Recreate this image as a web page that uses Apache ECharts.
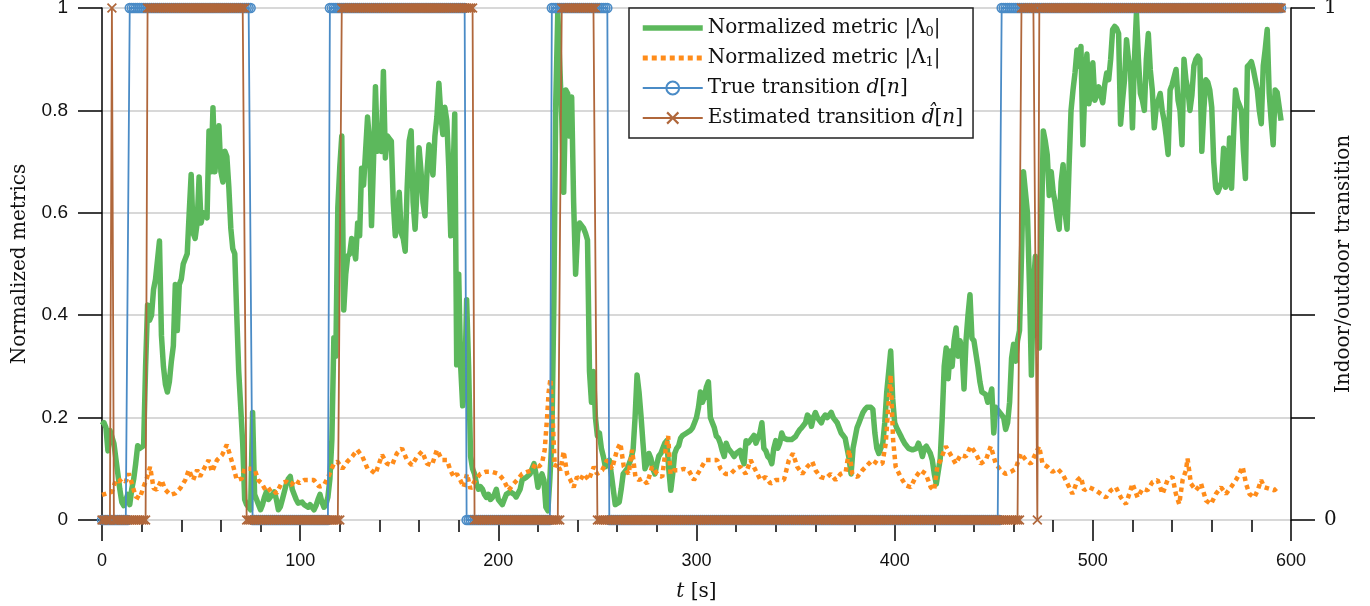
<!DOCTYPE html>
<html>
<head>
<meta charset="utf-8">
<script src="https://cdn.jsdelivr.net/npm/echarts@6/dist/echarts.min.js"></script>
<style>
  html, body { margin: 0; padding: 0; background: #ffffff; }
  #chart { width: 1370px; height: 606px; }
</style>
</head>
<body>
<div id="chart"></div>
<script>
// Normalized metric |Lambda_0|, [t (s), value]
var lambda0 = [
  [0,0.185],[1,0.19],[2,0.18],[3,0.135],[4,0.175],[5,0.175],[6,0.15],[7,0.12],[8,0.09],[9,0.06],[10,0.035],
  [11,0.028],[12,0.03],[13,0.05],[14,0.03],[15,0.06],[16,0.08],[17,0.11],[18,0.145],[19,0.14],[20,0.14],[21,0.145],
  [22,0.3],[23,0.42],[24,0.39],[25,0.4],[26,0.45],[27,0.47],[28,0.47],[29,0.545],[30,0.36],[31,0.3],[32,0.265],
  [33,0.25],[34,0.27],[35,0.31],[36,0.34],[37,0.46],[38,0.37],[39,0.46],[40,0.47],[41,0.5],[42,0.51],[43,0.52],
  [44,0.6],[45,0.675],[46,0.56],[47,0.55],[48,0.58],[49,0.67],[50,0.58],[51,0.6],[52,0.6],[53,0.59],[54,0.76],
  [55,0.68],[56,0.805],[57,0.68],[58,0.73],[59,0.77],[60,0.68],[61,0.66],[62,0.72],[63,0.71],[64,0.65],[65,0.57],
  [66,0.53],[67,0.52],[68,0.4],[69,0.29],[70,0.29],[71,0.15],[72,0.04],[73,0.03],[74,0.03],[75,0.02],[76,0.21],
  [77,0.05],[78,0.04],[79,0.03],[80,0.02],[81,0.03],[82,0.045],[83,0.055],[84,0.04],[85,0.04],[86,0.05],[87,0.055],
  [88,0.04],[89,0.02],[90,0.026],[91,0.04],[92,0.055],[93,0.07],[94,0.08],[95,0.085],[96,0.06],[97,0.05],[98,0.04],
  [99,0.033],[100,0.03],[101,0.035],[102,0.03],[103,0.028],[104,0.025],[105,0.03],[106,0.025],[107,0.02],[108,0.028],
  [109,0.04],[110,0.05],[111,0.035],[112,0.025],[113,0.03],[114,0.045],[115,0.08],[116,0.157],[117,0.356],[118,0.32],
  [119,0.61],[120,0.69],[121,0.75],[122,0.41],[123,0.48],[124,0.515],[125,0.52],[126,0.55],[127,0.53],[128,0.51],
  [129,0.58],[130,0.555],[131,0.687],[132,0.654],[133,0.655],[134,0.787],[135,0.74],[136,0.575],[137,0.7],[138,0.846],
  [139,0.72],[140,0.73],[141,0.72],[142,0.876],[143,0.707],[144,0.75],[145,0.745],[146,0.74],[147,0.62],[148,0.555],
  [149,0.588],[150,0.64],[151,0.56],[152,0.55],[153,0.525],[154,0.65],[155,0.74],[156,0.76],[157,0.62],[158,0.568],
  [159,0.65],[160,0.727],[161,0.68],[162,0.62],[163,0.594],[164,0.68],[165,0.733],[166,0.7],[167,0.674],[168,0.75],
  [169,0.787],[170,0.853],[171,0.79],[172,0.753],[173,0.806],[174,0.78],[175,0.687],[176,0.555],[177,0.65],[178,0.793],
  [179,0.303],[180,0.48],[181,0.3],[182,0.223],[183,0.256],[184,0.43],[185,0.3],[186,0.124],[187,0.1],[188,0.09],
  [189,0.07],[190,0.06],[191,0.065],[192,0.06],[193,0.05],[194,0.044],[195,0.05],[196,0.04],[197,0.044],[198,0.05],
  [199,0.06],[200,0.04],[201,0.035],[202,0.03],[203,0.04],[204,0.05],[205,0.05],[206,0.055],[207,0.058],[208,0.05],
  [209,0.045],[210,0.044],[211,0.06],[212,0.078],[213,0.08],[214,0.083],[215,0.085],[216,0.09],[217,0.1],[218,0.11],
  [219,0.09],[220,0.064],[221,0.08],[222,0.09],[223,0.078],[224,0.025],[225,0.018],[226,0.08],[227,0.157],[228,0.42],
  [229,0.82],[230,0.99],[231,0.99],[232,0.787],[233,0.64],[234,0.84],[235,0.833],[236,0.75],[237,0.826],[238,0.62],
  [239,0.48],[240,0.56],[241,0.58],[242,0.58],[243,0.57],[244,0.56],[245,0.547],[246,0.29],[247,0.23],[248,0.29],
  [249,0.2],[250,0.164],[251,0.17],[252,0.14],[253,0.124],[254,0.104],[255,0.11],[256,0.117],[257,0.09],[258,0.06],
  [259,0.03],[260,0.03],[261,0.035],[262,0.06],[263,0.09],[264,0.095],[265,0.1],[266,0.11],[267,0.12],[268,0.137],
  [269,0.2],[270,0.283],[271,0.25],[272,0.203],[273,0.15],[274,0.1],[275,0.11],[276,0.13],[277,0.12],[278,0.1],
  [279,0.09],[280,0.11],[281,0.125],[282,0.13],[283,0.14],[284,0.15],[285,0.155],[286,0.1],[287,0.058],[288,0.09],
  [289,0.13],[290,0.14],[291,0.145],[292,0.16],[293,0.165],[294,0.165],[295,0.17],[296,0.168],[297,0.175],[298,0.18],
  [299,0.19],[300,0.2],[301,0.22],[302,0.25],[303,0.23],[304,0.24],[305,0.26],[306,0.27],[307,0.2],[308,0.19],
  [309,0.18],[310,0.164],[311,0.16],[312,0.15],[313,0.135],[314,0.124],[315,0.15],[316,0.14],[317,0.14],[318,0.13],
  [319,0.124],[320,0.13],[321,0.13],[322,0.136],[323,0.12],[324,0.11],[325,0.155],[326,0.15],[327,0.15],[328,0.16],
  [329,0.165],[330,0.15],[331,0.16],[332,0.17],[333,0.19],[334,0.14],[335,0.135],[336,0.124],[337,0.12],[338,0.11],
  [339,0.14],[340,0.155],[341,0.14],[342,0.15],[343,0.17],[344,0.16],[345,0.157],[346,0.157],[347,0.16],[348,0.157],
  [349,0.16],[350,0.163],[351,0.17],[352,0.176],[353,0.18],[354,0.183],[355,0.19],[356,0.205],[357,0.2],[358,0.183],
  [359,0.2],[360,0.21],[361,0.2],[362,0.2],[363,0.19],[364,0.2],[365,0.205],[366,0.2],[367,0.2],[368,0.21],
  [369,0.2],[370,0.197],[371,0.19],[372,0.19],[373,0.17],[374,0.165],[375,0.16],[376,0.157],[377,0.12],[378,0.09],
  [379,0.14],[380,0.16],[381,0.18],[382,0.19],[383,0.2],[384,0.21],[385,0.216],[386,0.22],[387,0.223],[388,0.22],
  [389,0.216],[390,0.17],[391,0.14],[392,0.13],[393,0.13],[394,0.15],[395,0.19],[396,0.25],[397,0.29],[398,0.33],
  [399,0.237],[400,0.19],[401,0.18],[402,0.18],[403,0.165],[404,0.157],[405,0.15],[406,0.15],[407,0.14],[408,0.137],
  [409,0.137],[410,0.137],[411,0.14],[412,0.15],[413,0.14],[414,0.124],[415,0.14],[416,0.144],[417,0.144],[418,0.13],
  [419,0.117],[420,0.09],[421,0.07],[422,0.07],[423,0.12],[424,0.2],[425,0.3],[426,0.336],[427,0.276],[428,0.33],
  [429,0.3],[430,0.35],[431,0.375],[432,0.32],[433,0.35],[434,0.33],[435,0.256],[436,0.35],[437,0.4],[438,0.44],
  [439,0.355],[440,0.35],[441,0.35],[442,0.3],[443,0.27],[444,0.25],[445,0.25],[446,0.245],[447,0.23],[448,0.24],
  [449,0.256],[450,0.17],[451,0.22],[452,0.215],[453,0.21],[454,0.205],[455,0.2],[456,0.177],[457,0.19],[458,0.23],
  [459,0.316],[460,0.343],[461,0.31],[462,0.35],[463,0.37],[464,0.515],[465,0.68],[466,0.64],[467,0.6],[468,0.46],
  [469,0.283],[470,0.455],[471,0.515],[472,0.42],[473,0.336],[474,0.555],[475,0.76],[476,0.74],[477,0.713],[478,0.634],
  [479,0.68],[480,0.64],[481,0.62],[482,0.59],[483,0.568],[484,0.66],[485,0.694],[486,0.6],[487,0.568],[488,0.69],
  [489,0.8],[490,0.84],[491,0.873],[492,0.918],[493,0.886],[494,0.925],[495,0.733],[496,0.85],[497,0.91],[498,0.813],
  [499,0.84],[500,0.893],[501,0.82],[502,0.83],[503,0.846],[504,0.83],[505,0.815],[506,0.85],[507,0.873],[508,0.86],
  [509,0.9],[510,0.958],[511,0.964],[512,0.96],[513,0.95],[514,0.773],[515,0.82],[516,0.86],[517,0.938],[518,0.9],
  [519,0.88],[520,0.766],[521,0.9],[522,0.99],[523,0.9],[524,0.833],[525,0.82],[526,0.8],[527,0.9],[528,0.95],
  [529,0.879],[530,0.84],[531,0.766],[532,0.806],[533,0.82],[534,0.833],[535,0.8],[536,0.78],[537,0.75],[538,0.714],
  [539,0.84],[540,0.85],[541,0.853],[542,0.88],[543,0.82],[544,0.8],[545,0.733],[546,0.9],[547,0.86],[548,0.84],
  [549,0.8],[550,0.83],[551,0.887],[552,0.9],[553,0.906],[554,0.9],[555,0.72],[556,0.8],[557,0.86],[558,0.855],
  [559,0.84],[560,0.806],[561,0.7],[562,0.648],[563,0.64],[564,0.65],[565,0.66],[566,0.726],[567,0.65],[568,0.66],
  [569,0.746],[570,0.648],[571,0.75],[572,0.84],[573,0.82],[574,0.81],[575,0.8],[576,0.72],[577,0.667],[578,0.886],
  [579,0.89],[580,0.895],[581,0.88],[582,0.86],[583,0.84],[584,0.8],[585,0.774],[586,0.887],[587,0.92],[588,0.958],
  [589,0.833],[590,0.78],[591,0.733],[592,0.84],[593,0.835],[594,0.833],[595,0.78]
];

// Normalized metric |Lambda_1|, [t (s), value]
var lambda1 = [
  [0,0.049],[2.5,0.052],[5,0.055],[7,0.078],[8.5,0.075],[10,0.081],[12,0.075],[13.5,0.091],[15,0.072],[17,0.046],
  [19,0.042],[21,0.065],[22.6,0.081],[24.3,0.104],[26,0.062],[27.7,0.059],[30,0.078],[32,0.059],[34.5,0.049],[37,0.052],
  [39.5,0.062],[42,0.078],[43.8,0.098],[46,0.078],[48,0.098],[49.5,0.085],[52,0.104],[53.8,0.117],[55.5,0.094],[58,0.117],
  [60.6,0.127],[63,0.147],[64.6,0.127],[66.3,0.104],[68,0.078],[70.5,0.081],[72,0.1],[74.6,0.1],[77,0.1],[78.8,0.078],
  [80.5,0.072],[83,0.055],[85.6,0.062],[88,0.052],[90.6,0.072],[93,0.075],[95.6,0.068],[97.2,0.078],[99.7,0.072],[102,0.078],
  [104.6,0.078],[107,0.078],[109.6,0.065],[112,0.068],[114.6,0.088],[117,0.11],[118.8,0.114],[121.3,0.1],[123.8,0.114],[126.3,0.124],
  [128.8,0.137],[131.4,0.124],[134,0.1],[135.6,0.098],[138,0.09],[141.3,0.127],[143.8,0.11],[146.3,0.107],[148.8,0.13],[151.4,0.14],
  [153.9,0.117],[156.4,0.107],[159,0.124],[161.5,0.134],[164,0.11],[166.5,0.107],[169,0.137],[171.6,0.117],[174.1,0.117],[175.8,0.097],
  [177.5,0.084],[179.1,0.09],[180.8,0.078],[182.5,0.064],[184.2,0.09],[185.9,0.061],[188.4,0.078],[190.9,0.09],[193.5,0.094],[196.8,0.094],
  [200.2,0.09],[202.7,0.078],[205.2,0.058],[207.8,0.071],[209.4,0.078],[212,0.09],[214.5,0.094],[217,0.097],[218.7,0.11],[220.4,0.104],
  [222,0.11],[223.4,0.137],[224.6,0.2],[225.4,0.25],[226.3,0.276],[227.5,0.19],[228.5,0.104],[229.6,0.11],[231.3,0.097],[233,0.134],
  [234.7,0.09],[236.4,0.078],[238,0.064],[239.7,0.084],[241.4,0.078],[243.1,0.09],[245.6,0.078],[248.2,0.104],[249.8,0.09],[252.4,0.097],
  [254.9,0.117],[257.4,0.1],[259.9,0.137],[261.6,0.15],[263.3,0.104],[265.8,0.09],[267.5,0.137],[269.2,0.084],[270.9,0.078],[272.6,0.081],
  [275.1,0.071],[277.6,0.104],[280.2,0.09],[282.7,0.084],[284.4,0.137],[285.7,0.164],[286.9,0.09],[288.6,0.097],[291.1,0.097],[293.6,0.1],
  [296.1,0.097],[298.7,0.078],[301.2,0.094],[304.6,0.117],[307.9,0.117],[310.4,0.117],[312.1,0.1],[314.6,0.09],[317.2,0.09],[319.7,0.1],
  [322.2,0.104],[324.8,0.09],[327.3,0.117],[329.8,0.097],[332.3,0.078],[334.9,0.084],[337.4,0.071],[339.9,0.078],[342.4,0.078],[344.1,0.078],
  [346.6,0.117],[348.7,0.13],[350.8,0.104],[353.4,0.09],[355.9,0.104],[358.4,0.114],[360.1,0.097],[362.6,0.084],[365.2,0.081],[367.7,0.09],
  [370.2,0.078],[372.7,0.09],[375.3,0.094],[377,0.137],[378.6,0.09],[381.2,0.084],[383.7,0.097],[386.2,0.107],[388.7,0.117],[391.3,0.11],
  [393.8,0.11],[395.5,0.15],[396.8,0.223],[398,0.283],[399.2,0.157],[400.5,0.104],[403,0.084],[405.5,0.068],[408.1,0.064],[410.6,0.084],
  [413.1,0.097],[415.7,0.09],[418.2,0.064],[419.9,0.058],[421.5,0.104],[423.2,0.117],[425.8,0.144],[428.3,0.127],[430.8,0.11],[433.3,0.127],
  [435.9,0.124],[438.4,0.144],[440.9,0.13],[443.4,0.11],[446,0.117],[448.5,0.144],[451,0.11],[453.5,0.097],[456,0.09],[458.6,0.094],
  [461.1,0.1],[463.6,0.13],[466.2,0.117],[468.7,0.11],[471.2,0.13],[472.9,0.144],[474.6,0.11],[477.1,0.104],[479.6,0.094],[482.2,0.1],
  [484.7,0.09],[487.2,0.071],[489.7,0.051],[492.3,0.078],[494,0.084],[495.6,0.058],[498.1,0.064],[501.5,0.058],[504,0.051],[506.6,0.044],
  [509.1,0.058],[511.6,0.064],[514.2,0.044],[516.7,0.031],[518.4,0.051],[520,0.071],[522.6,0.044],[525.1,0.061],[527.6,0.058],[530.1,0.074],
  [532.7,0.078],[535.2,0.051],[537.7,0.078],[540.2,0.084],[541.9,0.051],[543.6,0.031],[545.3,0.078],[547,0.097],[547.8,0.12],[549.5,0.071],
  [552,0.058],[554.6,0.071],[557.1,0.038],[559.6,0.031],[562.1,0.051],[564.7,0.064],[567.2,0.051],[569.7,0.064],[572.2,0.078],[573.9,0.09],
  [575.6,0.104],[577.3,0.071],[579,0.051],[581.5,0.044],[583.2,0.058],[584.9,0.078],[586.5,0.064],[589.1,0.061],[591.6,0.058],[593.3,0.064]
];

// transitions, one sample per second, stored as runs of [value, number of samples]
var trueRuns = [[0, 14], [1, 62], [0, 39], [1, 69], [0, 43], [1, 29], [0, 198], [1, 142]];
var estRuns = [[0, 5], [1, 1], [0, 17], [1, 50], [0, 48], [1, 67], [0, 44], [1, 18], [0, 214], [1, 8], [0, 1], [1, 123]];

var xTicks = [0, 100, 200, 300, 400, 500, 600];
var leftTicks = [0, 0.2, 0.4, 0.6, 0.8, 1];

function expandRuns(runs) {
    var out = [];
    var t = 0;
    runs.forEach(function (r) {
        for (var k = 0; k < r[1]; k++) {
            out.push([t, r[0]]);
            t++;
        }
    });
    return out;
}

var GREEN = "#5cb85c";
var ORANGE = "#ff8c1a";
var BLUE = "#4a8bc6";
var BROWN = "#b0673b";
var SERIF = "'DejaVu Serif', 'Liberation Serif', serif";
var SANS = "'Liberation Sans', Arial, sans-serif";
var CROSS = "path://M0,1.2L1.2,0L5,3.8L8.8,0L10,1.2L6.2,5L10,8.8L8.8,10L5,6.2L1.2,10L0,8.8L3.8,5Z";

var chart = echarts.init(document.getElementById("chart"), null, { renderer: "canvas" });

var legendRich = {
    s: { fontFamily: SERIF, fontSize: 13, verticalAlign: "bottom", lineHeight: 17 },
    i: { fontFamily: SERIF, fontSize: 20, fontStyle: "italic" }
};

var option = {
    animation: false,
    backgroundColor: "#ffffff",
    grid: { left: 102, right: 79, top: 8, bottom: 86, containLabel: false, outerBoundsMode: "none" },
    legend: {
        orient: "vertical",
        left: 629,
        top: 8,
        padding: [9, 10, 9, 11],
        itemWidth: 60,
        itemHeight: 16,
        itemGap: 8,
        backgroundColor: "#ffffff",
        borderColor: "#222222",
        borderWidth: 1.5,
        borderRadius: 0,
        data: [
            { name: "l0", itemStyle: { opacity: 0 }, lineStyle: { width: 5.5 } },
            { name: "l1", itemStyle: { opacity: 0 }, lineStyle: { width: 5, type: [5, 4] } },
            { name: "d" },
            { name: "dhat" }
        ],
        formatter: function (name) {
            if (name === "l0") return "Normalized metric |\u039b{s|0}|";
            if (name === "l1") return "Normalized metric |\u039b{s|1}|";
            if (name === "d") return "True transition {i|d}[{i|n}]";
            return "Estimated transition {i|d\u0302}[{i|n}]";
        },
        textStyle: { fontFamily: SERIF, fontSize: 20, color: "#111111", lineHeight: 22, rich: legendRich }
    },
    xAxis: {
        type: "value",
        min: 0,
        max: 600,
        interval: 100,
        name: "{i|t} [s]",
        nameLocation: "middle",
        nameGap: 62,
        nameMoveOverlap: false,
        nameTextStyle: {
            fontFamily: SERIF, fontSize: 20, color: "#111111",
            rich: { i: { fontFamily: SERIF, fontSize: 20, fontStyle: "italic" } }
        },
        axisLine: { show: false },
        axisTick: { show: true, length: 21, lineStyle: { color: "#000000", width: 1.5 } },
        minorTick: { show: true, splitNumber: 5, length: 12, lineStyle: { color: "#000000", width: 1.5 } },
        axisLabel: {
            margin: 32, fontFamily: SANS, fontSize: 18, color: "#111111",
            formatter: function (v) { return xTicks.indexOf(v) >= 0 ? String(v) : ""; }
        },
        splitLine: { show: false }
    },
    yAxis: [
        {
            type: "value",
            min: 0,
            max: 1,
            interval: 0.2,
            position: "left",
            name: "Normalized metrics",
            nameLocation: "middle",
            nameGap: 72,
            nameMoveOverlap: false,
            nameTextStyle: { fontFamily: SERIF, fontSize: 20, color: "#111111" },
            axisLine: { show: true, lineStyle: { color: "#000000", width: 1.5 } },
            axisTick: { show: true, length: 24, lineStyle: { color: "#000000", width: 1.5 } },
            axisLabel: {
                margin: 34, fontFamily: SANS, fontSize: 19, color: "#111111",
                formatter: function (v) {
                    var r = Math.round(v * 10) / 10;
                    return leftTicks.indexOf(r) >= 0 ? String(r) : "";
                }
            },
            splitLine: { show: true, lineStyle: { color: "#d8d8d8", width: 2 } }
        },
        {
            type: "value",
            min: 0,
            max: 1,
            interval: 0.2,
            position: "right",
            name: "Indoor/outdoor transition",
            nameLocation: "middle",
            nameGap: 43,
            nameRotate: 90,
            nameMoveOverlap: false,
            nameTextStyle: { fontFamily: SERIF, fontSize: 20, color: "#111111" },
            axisLine: { show: true, lineStyle: { color: "#000000", width: 1.5 } },
            axisTick: { show: true, length: 24, lineStyle: { color: "#000000", width: 1.5 } },
            axisLabel: {
                margin: 33, fontFamily: SERIF, fontSize: 20, color: "#111111",
                formatter: function (v) { return v === 0 || v === 1 ? String(v) : ""; }
            },
            splitLine: { show: false }
        }
    ],
    series: [
        {
            name: "l0",
            type: "line",
            data: lambda0,
            symbol: "none",
            clip: false,
            itemStyle: { color: GREEN },
            lineStyle: { color: GREEN, width: 5.5, join: "round" },
            z: 2
        },
        {
            name: "l1",
            type: "line",
            data: lambda1,
            symbol: "none",
            clip: false,
            itemStyle: { color: ORANGE },
            lineStyle: { color: ORANGE, width: 4.5, type: [4.5, 4] },
            z: 3
        },
        {
            name: "d",
            type: "line",
            yAxisIndex: 1,
            data: expandRuns(trueRuns),
            symbol: "circle",
            symbolSize: 9,
            clip: false,
            itemStyle: { color: "rgba(255,255,255,0)", borderColor: BLUE, borderWidth: 1.5 },
            lineStyle: { color: BLUE, width: 1.8 },
            z: 4
        },
        {
            name: "dhat",
            type: "line",
            yAxisIndex: 1,
            data: expandRuns(estRuns),
            symbol: CROSS,
            symbolSize: 10,
            clip: false,
            itemStyle: { color: BROWN },
            lineStyle: { color: BROWN, width: 1.8 },
            z: 5
        }
    ]
};

chart.setOption(option);
</script>
</body>
</html>
